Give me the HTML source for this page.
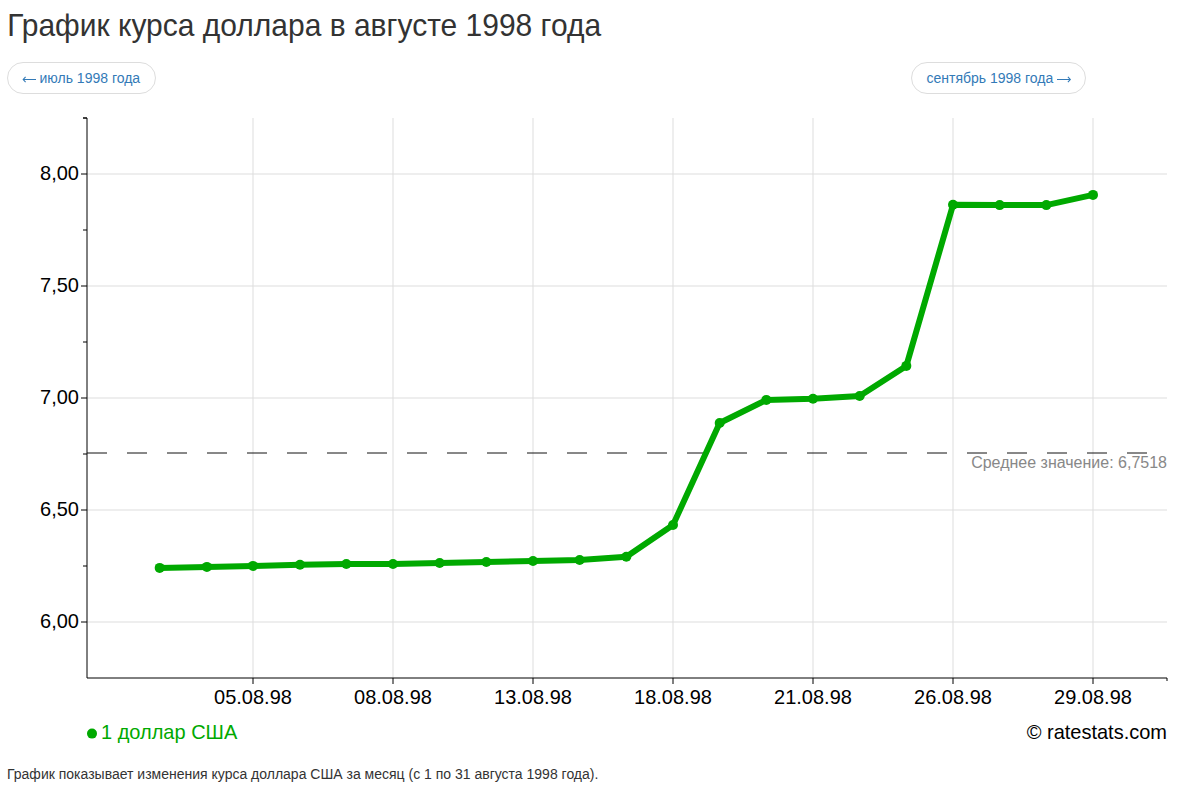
<!DOCTYPE html>
<html lang="ru">
<head>
<meta charset="utf-8">
<title>График курса доллара в августе 1998 года</title>
<style>
html,body{margin:0;padding:0;background:#fff;}
body{width:1185px;height:791px;overflow:hidden;position:relative;font-family:"Liberation Sans",sans-serif;}
svg{position:absolute;left:0;top:0;display:block;}
svg text{font-family:"Liberation Sans",sans-serif;}
</style>
</head>
<body>
<svg width="1185" height="791" viewBox="0 0 1185 791">
  <text transform="matrix(1,0,0,1.045,7.2,35.7)" font-size="30" fill="#333">График курса доллара в августе 1998 года</text>
  <rect x="7.5" y="62.5" width="148" height="31" rx="15.5" ry="15.5" fill="#fff" stroke="#ddd"/>
  <text x="39.5" y="82.7" font-size="14" fill="#337ab7">июль 1998 года</text>
  <path d="M23,79.5H36M25.6,76.8L23.2,79.5L25.6,82.2" fill="none" stroke="#337ab7" stroke-width="1.1"/>
  <rect x="911.5" y="62.5" width="174" height="31" rx="15.5" ry="15.5" fill="#fff" stroke="#ddd"/>
  <text x="926.5" y="82.7" font-size="14" fill="#337ab7">сентябрь 1998 года</text>
  <path d="M1057,79.5H1070.5M1067.9,76.8L1070.3,79.5L1067.9,82.2" fill="none" stroke="#337ab7" stroke-width="1.1"/>
  <path stroke="#ddd" stroke-width="1" fill="none" d="M87,174H1167M87,286H1167M87,398H1167M87,510H1167M87,622H1167M253,118V678M393,118V678M533,118V678M673,118V678M813,118V678M953,118V678M1093,118V678"/>
  <path stroke="#000" stroke-width="1" fill="none" d="M83,118H87V678H1167V681M81,174H87M81,286H87M81,398H87M81,510H87M81,622H87"/>
  <path stroke="#000" stroke-width="1" fill="none" d="M83,118H87M83,230H87M83,342H87M83,454H87M83,566H87"/>
  <path stroke="#000" stroke-width="1" fill="none" d="M253,678V684M393,678V684M533,678V684M673,678V684M813,678V684M953,678V684M1093,678V684"/>
  <text transform="matrix(1,0,0,1.05,79,179.7)" font-size="20" fill="#000" text-anchor="end">8,00</text>
  <text transform="matrix(1,0,0,1.05,79,291.7)" font-size="20" fill="#000" text-anchor="end">7,50</text>
  <text transform="matrix(1,0,0,1.05,79,403.7)" font-size="20" fill="#000" text-anchor="end">7,00</text>
  <text transform="matrix(1,0,0,1.05,79,515.7)" font-size="20" fill="#000" text-anchor="end">6,50</text>
  <text transform="matrix(1,0,0,1.05,79,627.7)" font-size="20" fill="#000" text-anchor="end">6,00</text>
  <text transform="matrix(1,0,0,1.05,253,703.7)" font-size="20" fill="#000" text-anchor="middle">05.08.98</text>
  <text transform="matrix(1,0,0,1.05,393,703.7)" font-size="20" fill="#000" text-anchor="middle">08.08.98</text>
  <text transform="matrix(1,0,0,1.05,533,703.7)" font-size="20" fill="#000" text-anchor="middle">13.08.98</text>
  <text transform="matrix(1,0,0,1.05,673,703.7)" font-size="20" fill="#000" text-anchor="middle">18.08.98</text>
  <text transform="matrix(1,0,0,1.05,813,703.7)" font-size="20" fill="#000" text-anchor="middle">21.08.98</text>
  <text transform="matrix(1,0,0,1.05,953,703.7)" font-size="20" fill="#000" text-anchor="middle">26.08.98</text>
  <text transform="matrix(1,0,0,1.05,1093,703.7)" font-size="20" fill="#000" text-anchor="middle">29.08.98</text>
  <path d="M87,453H1167" stroke="#111" stroke-width="1" stroke-dasharray="20,20" fill="none"/>
  <text x="1167" y="467.5" font-size="16" fill="#888" text-anchor="end">Среднее значение: 6,7518</text>
  <polyline fill="none" stroke="#00a900" stroke-width="6" stroke-linejoin="round" points="159.67,567.9 206.90,566.9 253.00,565.9 300.00,564.8 346.33,564.0 393.00,564.0 439.67,563.0 486.33,562.0 533.00,561.0 579.67,560.0 626.33,556.8 673.00,525.0 719.67,423.0 766.33,399.9 813.00,398.8 859.67,396.0 906.33,365.9 953.00,204.8 999.67,205.1 1046.33,205.1 1093.00,194.9"/>
  <g fill="#00a900"><circle cx="159.67" cy="567.9" r="5"/><circle cx="206.90" cy="566.9" r="5"/><circle cx="253.00" cy="565.9" r="5"/><circle cx="300.00" cy="564.8" r="5"/><circle cx="346.33" cy="564.0" r="5"/><circle cx="393.00" cy="564.0" r="5"/><circle cx="439.67" cy="563.0" r="5"/><circle cx="486.33" cy="562.0" r="5"/><circle cx="533.00" cy="561.0" r="5"/><circle cx="579.67" cy="560.0" r="5"/><circle cx="626.33" cy="556.8" r="5"/><circle cx="673.00" cy="525.0" r="5"/><circle cx="719.67" cy="423.0" r="5"/><circle cx="766.33" cy="399.9" r="5"/><circle cx="813.00" cy="398.8" r="5"/><circle cx="859.67" cy="396.0" r="5"/><circle cx="906.33" cy="365.9" r="5"/><circle cx="953.00" cy="204.8" r="5"/><circle cx="999.67" cy="205.1" r="5"/><circle cx="1046.33" cy="205.1" r="5"/><circle cx="1093.00" cy="194.9" r="5"/></g>
  <circle cx="92" cy="733.6" r="5" fill="#00a900"/>
  <text transform="matrix(1,0,0,1.05,101,739.4)" font-size="20" fill="#00a900">1 доллар США</text>
  <text transform="matrix(1,0,0,1.05,1167,739.4)" font-size="20" fill="#000" text-anchor="end">© ratestats.com</text>
  <text x="7" y="778.9" font-size="14" fill="#333">График показывает изменения курса доллара США за месяц (с 1 по 31 августа 1998 года).</text>
</svg>
</body>
</html>
